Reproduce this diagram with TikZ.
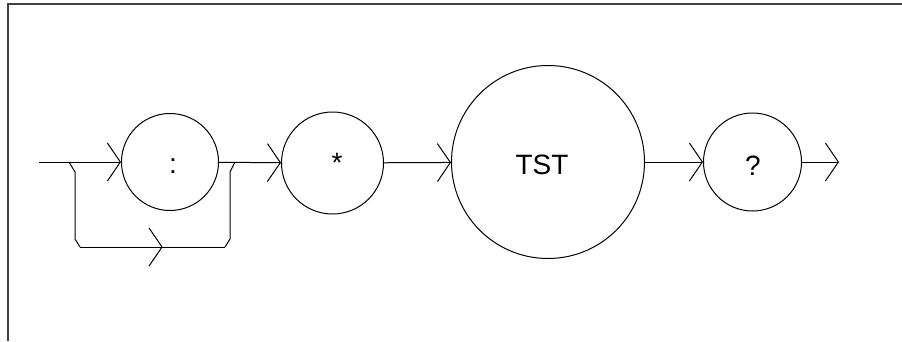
\documentclass[tikz,border=0pt]{standalone}
\usepackage{fontspec}
\setmainfont{Liberation Sans}
\usetikzlibrary{arrows.meta,decorations.markings}
\tikzset{
  vtip/.tip={Straight Barb[length=13pt,width=38pt,line width=1pt]},
  conn/.style={draw, line width=1pt, -vtip},
  plain/.style={draw, line width=1pt},
  term/.style={circle, draw, line width=1pt, inner sep=0pt},
  lbl/.style={inner sep=0pt, font=\fontsize{28}{32}\selectfont},
  midtip/.style={postaction={decorate}, decoration={markings, mark=at position #1 with {\arrow{vtip}}}},
  frame/.style={draw=black!75, line width=1.3pt}
}
\begin{document}
\begin{tikzpicture}[x=1pt,y=-1pt]
\useasboundingbox (0,0) rectangle (902,341);
\draw[frame] (8,341) -- (8,4) -- (902,4);
\node[term, minimum size=97pt] (c1) at (170,162) {};
\node[term, minimum size=102pt] (c2) at (332.5,163) {};
\node[term, minimum size=193pt] (c3) at (548,162) {};
\node[term, minimum size=98pt] (c4) at (752.5,162) {};
\node[lbl] (t1) at (173,166) {:};
\node[lbl] (t2) at (337,163) {*};
\node[lbl] (t3) at (542,165) {TST};
\node[lbl] (t4) at (753,166) {?};
\coordinate (start) at (39,162);
\coordinate (end) at (839,162);
\coordinate (b0) at (69,162);
\coordinate (b1) at (75,172);
\coordinate (b2) at (75,239);
\coordinate (b3) at (80,247);
\coordinate (b4) at (225,247);
\coordinate (b5) at (230,239);
\coordinate (b6) at (230,172);
\coordinate (b7) at (235,162);
\draw[conn] (start) -- (c1);
\draw[conn] (c1) -- (c2);
\draw[conn] (c2) -- (c3);
\draw[conn] (c3) -- (c4);
\draw[conn] (c4) -- (end);
\draw[plain] (b0) -- (b1) -- (b2) -- (b3);
\draw[plain, midtip=0.57] (b3) -- (b4);
\draw[plain] (b4) -- (b5) -- (b6) -- (b7);
\end{tikzpicture}
\end{document}
